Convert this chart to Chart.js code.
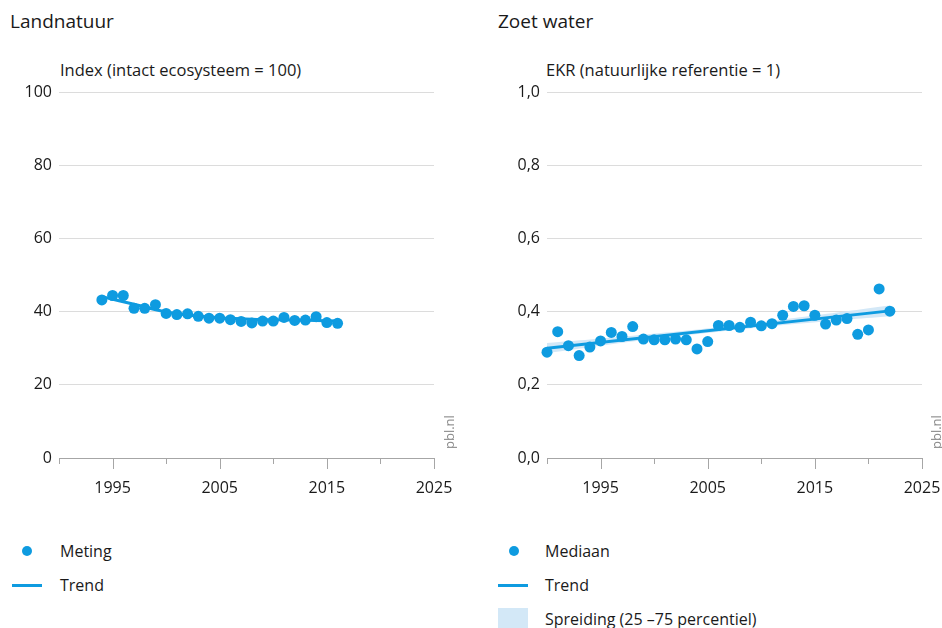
<!DOCTYPE html>
<html lang="nl">
<head>
<meta charset="UTF-8">
<title>Landnatuur en zoet water</title>
<script src="https://cdn.jsdelivr.net/npm/chart.js"></script>
<style>
    body { margin: 0; background: #fff; font-family: "Open Sans", sans-serif; color: #1a1a1a; }
    #page { position: relative; width: 942px; height: 628px; overflow: hidden; }
    .title { position: absolute; font-size: 19px; top: 8px; }
    .unit { position: absolute; font-size: 16.5px; top: 58px; }
    .box { position: absolute; top: 82px; height: 430px; }
    .src { position: absolute; font-size: 13px; line-height: 14px; color: #8a8a8a; transform: rotate(-90deg); transform-origin: left top; }
    .leg { position: absolute; font-size: 16px; line-height: 20px; }
    .dot { position: absolute; width: 10px; height: 10px; border-radius: 50%; background: #0e9be0; }
    .line { position: absolute; width: 30px; height: 3px; background: #0e9be0; }
    .band { position: absolute; width: 30px; height: 22px; background: #d3e8f7; }
</style>
</head>
<body>
<div id="page">
    <div class="title" style="left:10px">Landnatuur</div>
    <div class="title" style="left:498px">Zoet water</div>
    <div class="unit" style="left:60px">Index (intact ecosysteem = 100)</div>
    <div class="unit" style="left:546px">EKR (natuurlijke referentie = 1)</div>

    <div class="box" style="left:0;width:470px"><canvas id="land"></canvas></div>
    <div class="box" style="left:470px;width:472px"><canvas id="water"></canvas></div>

    <div class="src" style="left:442px;top:449px">pbl.nl</div>
    <div class="src" style="left:929px;top:449px">pbl.nl</div>

    <!-- legenda -->
    <div class="dot" style="left:22px;top:546px"></div>
    <div class="leg" style="left:60px;top:541px">Meting</div>
    <div class="line" style="left:12px;top:584px"></div>
    <div class="leg" style="left:60px;top:575px">Trend</div>

    <div class="dot" style="left:509px;top:546px"></div>
    <div class="leg" style="left:545px;top:541px">Mediaan</div>
    <div class="line" style="left:498px;top:584px"></div>
    <div class="leg" style="left:545px;top:575px">Trend</div>
    <div class="band" style="left:498px;top:608px"></div>
    <div class="leg" style="left:545px;top:609px">Spreiding (25 –75 percentiel)</div>
</div>

<script>
    const blue = '#0e9be0';
    const xTickLabels = [1995, 2005, 2015, 2025];
    const xMinorTicks = [1990, 1995, 2000, 2005, 2010, 2015, 2020, 2025];

    // Landnatuur: index per jaar
    const landYears = [1994, 1995, 1996, 1997, 1998, 1999, 2000, 2001, 2002, 2003, 2004, 2005,
        2006, 2007, 2008, 2009, 2010, 2011, 2012, 2013, 2014, 2015, 2016];
    const landValues = [43.2, 44.4, 44.4, 40.9, 40.9, 41.9, 39.5, 39.2, 39.4, 38.7, 38.2, 38.2,
        37.8, 37.3, 36.9, 37.4, 37.4, 38.4, 37.6, 37.7, 38.6, 37.0, 36.8];
    const landTrendYears = [1994, 1997, 2000, 2004, 2008, 2012, 2016];
    const landTrendValues = [44.1, 42.0, 39.9, 38.5, 37.9, 37.7, 37.4];
    const landTicks = [0, 20, 40, 60, 80, 100];

    // Zoet water: mediaan EKR per jaar
    const waterYears = [1990, 1991, 1992, 1993, 1994, 1995, 1996, 1997, 1998, 1999, 2000, 2001,
        2002, 2003, 2004, 2005, 2006, 2007, 2008, 2009, 2010, 2011, 2012, 2013, 2014, 2015,
        2016, 2017, 2018, 2019, 2020, 2021, 2022];
    const waterValues = [0.289, 0.345, 0.307, 0.280, 0.303, 0.320, 0.343, 0.332, 0.359, 0.325,
        0.323, 0.323, 0.325, 0.323, 0.298, 0.318, 0.362, 0.362, 0.357, 0.371, 0.361, 0.367,
        0.390, 0.414, 0.416, 0.390, 0.366, 0.377, 0.381, 0.338, 0.350, 0.462, 0.401];
    const waterTrendYears = [1990, 2022];
    const waterTrendValues = [0.300, 0.402];
    const bandYears = [1990, 1998, 2006, 2014, 2022];
    const bandLow = [0.286, 0.318, 0.345, 0.368, 0.387];
    const bandHigh = [0.314, 0.334, 0.357, 0.386, 0.417];
    const waterTicks = [0, 0.2, 0.4, 0.6, 0.8, 1.0];

    const pts = (xs, ys) => xs.map((x, i) => ({ x: x, y: ys[i] }));

    // korte en lange streepjes onder de x-as
    const axisTicks = {
        id: 'axisTicks',
        afterDraw(chart) {
            const x = chart.scales.x, ctx = chart.ctx, y0 = chart.chartArea.bottom;
            ctx.save();
            ctx.strokeStyle = '#a6a6a6';
            ctx.lineWidth = 1;
            xMinorTicks.forEach(v => {
                const px = Math.round(x.getPixelForValue(v)) + 0.5;
                const len = xTickLabels.includes(v) ? 11 : 6;
                ctx.beginPath();
                ctx.moveTo(px, y0);
                ctx.lineTo(px, y0 + len);
                ctx.stroke();
            });
            ctx.restore();
        }
    };

    function makeChart(id, datasets, yMax, yTicks, yWidth, padRight, fmt) {
        return new Chart(document.getElementById(id), {
            type: 'scatter',
            data: { datasets: datasets },
            plugins: [axisTicks],
            options: {
                responsive: true,
                maintainAspectRatio: false,
                animation: false,
                layout: { padding: { top: 10, right: padRight, bottom: 0, left: 0 } },
                plugins: { legend: { display: false }, tooltip: { enabled: false } },
                scales: {
                    x: {
                        type: 'linear', min: 1990, max: 2025,
                        afterBuildTicks: s => { s.ticks = xTickLabels.map(v => ({ value: v })); },
                        afterFit: s => { s.height = 54; s.paddingLeft = 0; s.paddingRight = 0; },
                        grid: { display: false, drawTicks: false },
                        border: { display: true, color: '#a6a6a6', width: 1 },
                        ticks: {
                            padding: 21, color: '#1a1a1a', maxRotation: 0,
                            font: { family: 'Open Sans', size: 16 },
                            callback: v => String(v)
                        }
                    },
                    y: {
                        min: 0, max: yMax,
                        afterBuildTicks: s => { s.ticks = yTicks.map(v => ({ value: v })); },
                        afterFit: s => { s.width = yWidth; s.paddingTop = 0; s.paddingBottom = 0; },
                        grid: { color: '#dcdcdc', drawTicks: false },
                        border: { display: false },
                        ticks: {
                            padding: 7, color: '#1a1a1a',
                            font: { family: 'Open Sans', size: 16 },
                            callback: fmt
                        }
                    }
                }
            }
        });
    }

    makeChart('land', [
        { data: pts(landYears, landValues), backgroundColor: blue, borderWidth: 0, pointRadius: 5.5, clip: false },
        { data: pts(landTrendYears, landTrendValues), showLine: true, borderColor: blue,
          borderWidth: 3, pointRadius: 0, tension: 0.4 }
    ], 100, landTicks, 59, 36, v => String(v));

    makeChart('water', [
        { data: pts(waterYears, waterValues), backgroundColor: blue, borderWidth: 0, pointRadius: 5.5, clip: false },
        { data: pts(waterTrendYears, waterTrendValues), showLine: true, borderColor: blue,
          borderWidth: 3, pointRadius: 0 },
        { data: pts(bandYears, bandLow), showLine: true, borderWidth: 0, pointRadius: 0,
          tension: 0.4 },
        { data: pts(bandYears, bandHigh), showLine: true, borderWidth: 0, pointRadius: 0,
          tension: 0.4, fill: '-1', backgroundColor: '#d3e8f7' }
    ], 1, waterTicks, 77, 20, v => v.toFixed(1).replace('.', ','));
</script>
</body>
</html>
